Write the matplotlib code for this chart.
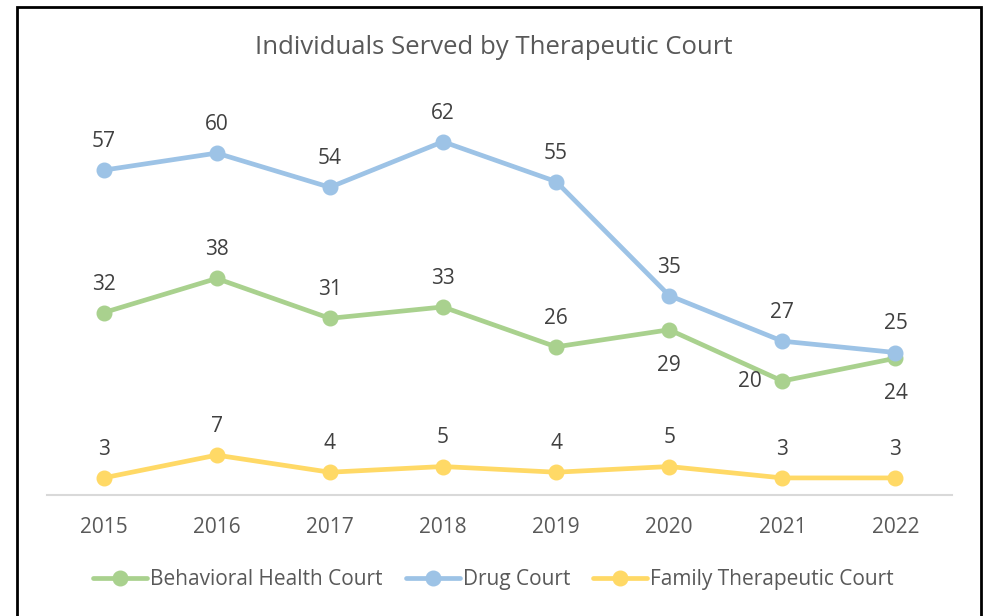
import numpy as np
import matplotlib
matplotlib.use('Agg')
from matplotlib import pyplot as plt
from matplotlib.patches import Rectangle

years = ['2015', '2016', '2017', '2018', '2019', '2020', '2021', '2022']
behavioral = [32, 38, 31, 33, 26, 29, 20, 24]
drug = [57, 60, 54, 62, 55, 35, 27, 25]
family = [3, 7, 4, 5, 4, 5, 3, 3]

# label placement for the behavioral series (below / left near the end)
behavioral_pos = ['above', 'above', 'above', 'above', 'above', 'below', 'left', 'below']

plt.rcParams['font.family'] = ['Open Sans', 'DejaVu Sans']
text_color = '#595959'
label_color = '#404040'

fig = plt.figure(figsize=(9.87, 6.16), dpi=100)
ax = fig.add_axes([0.0476, 0.1964, 0.917, 0.6476])

x = np.arange(len(years))
series = [
    ('Behavioral Health Court', behavioral, '#A9D18E'),
    ('Drug Court', drug, '#9DC3E6'),
    ('Family Therapeutic Court', family, '#FFD966'),
]
for name, vals, color in series:
    ax.plot(x, vals, color=color, lw=3.4, marker='o', ms=10.5, label=name,
            solid_capstyle='round')

def put(xi, v, pos):
    if pos == 'above':
        ax.annotate(str(v), (xi, v), xytext=(0, 13), textcoords='offset points',
                    ha='center', va='bottom', fontsize=15, color=label_color)
    elif pos == 'below':
        ax.annotate(str(v), (xi, v), xytext=(0, -18), textcoords='offset points',
                    ha='center', va='top', fontsize=15, color=label_color)
    else:
        ax.annotate(str(v), (xi, v), xytext=(-15, 0), textcoords='offset points',
                    ha='right', va='center', fontsize=15, color=label_color)

for i, v in enumerate(drug):
    put(i, v, 'above')
for i, v in enumerate(behavioral):
    put(i, v, behavioral_pos[i])
for i, v in enumerate(family):
    put(i, v, 'above')

ax.set_xlim(-0.5, len(years) - 0.5)
ax.set_ylim(0, 70)
ax.set_xticks(x)
ax.set_xticklabels(years, fontsize=15, color=text_color)
ax.set_yticks([])
ax.tick_params(axis='x', length=0, pad=16)
for s in ['top', 'right', 'left']:
    ax.spines[s].set_visible(False)
ax.spines['bottom'].set_color('#D9D9D9')
ax.spines['bottom'].set_linewidth(1.5)

fig.text(0.5, 0.923, 'Individuals Served by Therapeutic Court', ha='center', va='center',
         fontsize=18.5, color=text_color)

leg = fig.legend(loc='center', bbox_to_anchor=(0.5, 0.059), ncol=3, frameon=False,
                 fontsize=15, handlelength=2.6, handletextpad=0.15, columnspacing=1.1)
for t in leg.get_texts():
    t.set_color(text_color)

# chart border
fig.add_artist(Rectangle((17 / 987, -0.05), (981 - 17) / 987, 1.05 - 7 / 616,
                         transform=fig.transFigure, fill=False, edgecolor='black', lw=2))

fig.savefig('out.png', dpi=100)
